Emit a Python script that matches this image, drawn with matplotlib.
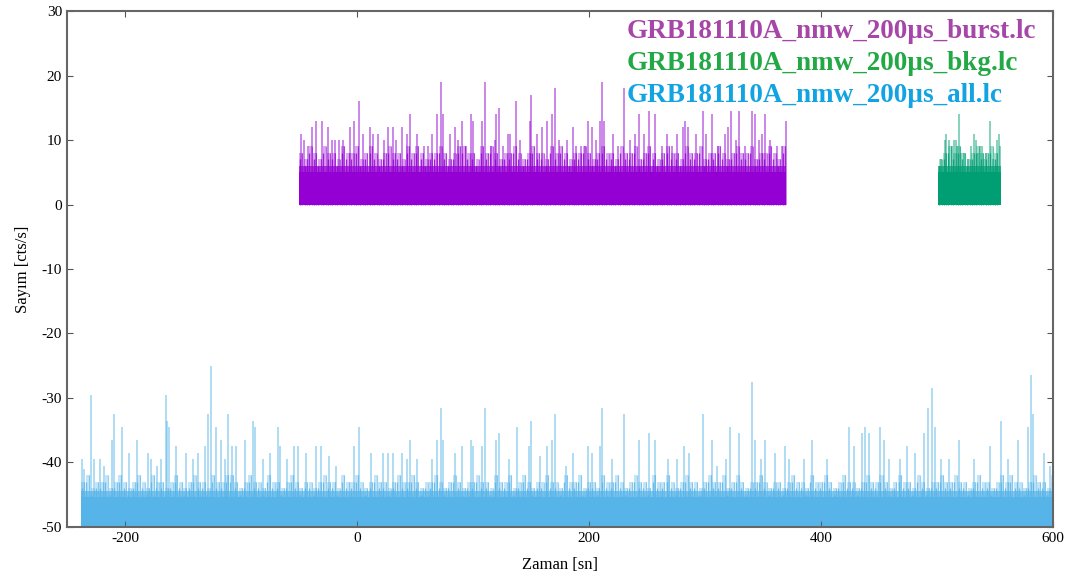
import numpy as np
import matplotlib.pyplot as plt

# time span of each light curve [s]
burst_span = [-50, 370]
bkg_span = [501, 555]
all_span = [-238, 600]

# typical count level (solid part) and top of the dense lower band
burst_level = [5, 6]
bkg_level = [5, 6]
all_level = [4.7, 5.6]
all_offset = -50   # the 'all' curve is drawn shifted down by 50

# dense band, one value per 4 s
band_step = 4
burst_band = [8, 7, 9, 8, 7, 9, 8, 8, 7, 9, 8, 8, 9, 7, 8, 9, 8, 7, 8, 9,
              8, 8, 7, 9, 8, 9, 8, 7, 8, 8, 9, 8, 7, 8, 9, 9, 8, 8, 7, 9,
              8, 9, 8, 7, 8, 8, 9, 8, 7, 8, 9, 8, 8, 7, 9, 8, 9, 8, 7, 8,
              8, 9, 8, 7, 8, 9, 8, 8, 7, 9, 8, 8, 9, 7, 8, 9, 8, 7, 8, 9,
              8, 8, 7, 9, 8, 8, 9, 7, 8, 8, 9, 8, 7, 8, 9, 8, 8, 9, 7, 8,
              8, 9, 8, 7, 9]
bkg_band = [7, 8, 9, 8, 9, 8, 7, 8, 9, 8, 8, 9, 8]
all_band = [7, 8, 6, 7, 7, 8, 6, 7, 8, 7, 6, 7, 8, 7, 6, 8, 7, 7, 6, 7,
            8, 7, 6, 7, 8, 7, 7, 6, 8, 7, 7, 8, 8, 7, 6, 7, 8, 7, 7, 6,
            8, 7, 7, 6, 7, 8, 7, 6, 7, 7, 6, 7, 8, 7, 7, 6, 8, 7, 7, 8,
            7, 6, 7, 8, 7, 7, 6, 7, 8, 7, 7, 8, 7, 6, 7, 7, 8, 7, 6, 7,
            8, 7, 6, 7, 7, 8, 7, 7, 6, 8, 7, 7, 8, 6, 7, 8, 7, 6, 7, 7,
            8, 7, 7, 6, 8, 7, 7, 8, 6, 7, 7, 6, 8, 7, 7, 8, 7, 6, 7, 8,
            7, 7, 6, 8, 7, 7, 8, 7, 6, 7, 8, 7, 7, 6, 7, 8, 7, 7, 8, 6,
            7, 8, 7, 6, 7, 7, 8, 7, 6, 7, 7, 6, 7, 8, 7, 7, 6, 8, 7, 7,
            8, 7, 6, 7, 8, 7, 7, 6, 7, 8, 7, 7, 8, 7, 6, 7, 8, 7, 7, 6,
            8, 7, 6, 7, 7, 8, 7, 7, 8, 7, 7, 6, 7, 8, 7, 7, 6, 7, 8, 7,
            8, 7, 7, 6, 7, 8, 7, 7, 6, 8]

# spikes: time [s], counts
burst_t = [-48.4, -45.5, -42.6, -39.1, -35.4, -30.5, -25, -21.9, -18.7, -15.3, -11.8, -6.3, -2.9,
           2.0, 5.2, 11, 13.5, 17.9, 23.6, 26.5, 30.8, 33.7, 38.9, 42.9, 46, 51.6, 57.6, 61, 64.5,
           69.1, 72.6, 74, 80.6, 84.1, 87, 90.5, 94.2, 97.9, 99.9, 107.7, 110, 115.8, 118.6, 120.1,
           122.1, 126.1, 130.2, 131.6, 137.4, 140.6, 148.9, 149.8, 155.3, 159.6, 164.1, 168.2,
           171.1, 173.9, 180.6, 186.3, 189.2, 192.7, 196.4, 198.7, 202.2, 205.9, 209.4, 211.4,
           213.1, 220.3, 225.2, 230.1, 235.3, 239.6, 243.1, 247.7, 252, 256.9, 262.6, 266.9,
           271.3, 275.6, 281.4, 282.8, 285.7, 292, 298, 301.2, 306.4, 311.6, 317.3, 319.4, 322.2,
           326.6, 328.9, 334.6, 340.4, 342.7, 346.2, 349, 351.4, 356.2, 362, 366.3, 369.8]
burst_c = [11, 10, 9, 12, 13, 13, 12, 10, 10, 10, 10, 12, 13,
           16, 11, 12, 11, 11, 10, 12, 12, 10, 12, 11, 14, 11, 9, 9, 11,
           14, 19, 14, 11, 12, 10, 13, 9, 14, 13, 13, 19, 9, 10, 14,
           15, 9, 11, 11, 16, 10, 13, 17, 11, 12, 13, 14,
           18, 10, 10, 12, 9, 9, 9, 13, 12, 10, 13, 19,
           13, 11, 9, 18, 10, 11, 14, 11, 14.5, 14, 9, 11,
           9, 11, 12, 13, 12, 11, 14.5, 11, 14, 9, 11, 12, 14.5,
           10, 14.5, 9, 14.5, 14, 10, 11, 14, 10, 9, 9, 13]

bkg_t = [503.1, 506.9, 508, 510.5, 512.6, 514.2, 516.1, 517.5, 519, 520.5, 523, 526.5, 529.6,
         531.9, 533.4, 535, 536.8, 538.5, 540.5, 542.6, 545.5, 548, 551.5, 553, 554.2]
bkg_c = [7, 10, 11, 10, 9, 10, 10, 9, 14, 8, 8, 7, 9,
         11, 10, 8, 9, 9, 7, 8, 13, 7, 10, 11, 9]

all_t = [-237, -235.5, -229.2, -227, -221.8, -218.3, -211.1, -209.1, -202.4, -196.7, -189.5,
         -180.3, -177.4, -172.8, -169, -165, -163.6, -162.2, -155.8, -147.7, -141.1, -137.1,
         -131, -128.4, -126.1, -121.8, -116.9, -114, -110.9, -107.4, -103.9, -96.5, -89.3,
         -87.9, -81, -74.9, -67.7, -66.3, -60, -54.2, -50.7, -44.1, -35.4, -31.1, -24, -18,
         -2.9, 1.4, 12.1, 22.2, 27.1, 30.8, 38.9, 43, 46.1, 52, 65, 69.1, 72.6, 74, 84.1, 90.5,
         97.9, 100, 107.7, 110, 120.1, 122.1, 131, 137.6, 148, 149.8, 158, 163.9, 168.5, 171.1,
         180, 186.3, 198.7, 203, 209.4, 211.4, 220, 230.1, 243.1, 252.1, 256.9, 268, 276,
         282.2, 286, 298.6, 306.4, 310, 318, 321.7, 328.9, 340.4, 343.3, 348, 351.9, 360.5,
         369.2, 372, 385, 392.2, 405, 423.9, 428, 435.4, 437.7, 441.1, 451.2, 454.1, 459, 468,
         474.3, 481, 488.7, 492.4, 495.3, 498.2, 503, 510, 519, 532, 545.7, 554.9, 561, 569.9,
         578.8, 581.1, 582.9, 592.4, 597]
all_c = [10.5, 9, 20.5, 10.5, 10.5, 9.5, 13.5, 17.5, 15.5, 11.5, 13.5,
         11.5, 10.5, 9.5, 10.5, 20.5, 16.5, 15.5, 12.5, 11.5, 10.5, 11.5,
         12.5, 17.5, 25, 15.5, 13.5, 10.5, 17.5, 12.5, 12.5, 13.5, 16.5,
         15.5, 10.5, 11.5, 15.5, 12.5, 10.5, 12.5, 12.5, 11.5, 12.5, 12.5, 11, 9.5,
         12.5, 15.5, 11.5, 11.5, 11.5, 11.5, 11.5, 10.5, 13.5, 10.5, 10.5, 13.5, 18.5, 13.5, 11.5, 12.5,
         13.5, 12.5, 12.5, 18.5, 13.5, 14.5, 10.5, 15.5, 12.5, 16.5, 11, 12.5, 13.5, 17.5,
         9.5, 11.5, 12.5, 11.5, 12.5, 18.5, 10.5, 17.5, 13.5, 14.5, 13.5, 10.5, 10.5,
         12.5, 11.5, 17.5, 13.5, 9.5, 10.5, 15.5, 14.5, 22.5, 13.5, 10.5, 13.5, 11.5,
         12.5, 10.5, 10.5, 13.5, 10.5, 15.5, 12.5, 14.5, 15.5, 14.5, 15.5, 13.5, 10.5, 10.5,
         12.5, 11.5, 14.5, 18.5, 21.5, 15.5, 10.5, 10.5, 13.5, 10.5, 12.5, 16.5, 10.5, 13.5,
         15.5, 23.5, 17.5, 11.5, 9.5]

labels = ['GRB181110A_nmw_200µs_burst.lc', 'GRB181110A_nmw_200µs_bkg.lc',
          'GRB181110A_nmw_200µs_all.lc']
label_colors = ['#a646a8', '#22a845', '#12a3e3']

plt.rcParams['font.family'] = ['Liberation Serif', 'DejaVu Serif']
plt.rcParams['axes.unicode_minus'] = False

fig = plt.figure(figsize=(10.68, 5.81), dpi=100)
ax = fig.add_axes([0.0627, 0.093, 0.9233, 0.888])


def draw_lc(span, level, band, t, c, color, offset=0):
    tb = np.arange(len(band)) * band_step + span[0] + band_step / 2
    hb = np.array(band) + offset
    ax.fill_between(span, offset, level[0] + offset, color=color, lw=0)
    ax.fill_between(span, level[0] + offset, level[1] + offset, color=color, alpha=0.7, lw=0)
    # light blocks plus darker thin lines in the band
    ax.bar(tb, hb - offset, bottom=offset, width=band_step * 0.8, color=color, alpha=0.35, lw=0)
    ax.vlines(tb - band_step * 0.3, offset, hb - 1, color=color, lw=1.0, alpha=0.8)
    ax.vlines(tb + band_step * 0.25, offset, hb, color=color, lw=0.8, alpha=0.6)
    ax.vlines(t, offset, np.array(c) + offset, color=color, lw=1.1, alpha=0.6)


draw_lc(burst_span, burst_level, burst_band, burst_t, burst_c, '#9400d3')
draw_lc(bkg_span, bkg_level, bkg_band, bkg_t, bkg_c, '#009e73')
draw_lc(all_span, all_level, all_band, all_t, all_c, '#56b4e9', all_offset)

for i, (lab, col) in enumerate(zip(labels, label_colors)):
    ax.text(0.568, 0.985 - i * 0.062, lab, transform=ax.transAxes, color=col,
            fontsize=19.5, fontweight='bold', va='top', ha='left')

ax.set_xlim(-250, 600)
ax.set_ylim(-50, 30)
ax.set_xticks([-200, 0, 200, 400, 600])
ax.set_yticks(range(-50, 31, 10))
ax.tick_params(direction='in', top=True, right=True, labelsize=11, length=4,
               color='#555555')
for s in ax.spines.values():
    s.set_color('#666666')
    s.set_linewidth(1.5)
ax.set_xlabel('Zaman [sn]', fontsize=12, labelpad=9)
ax.set_ylabel('Sayım [cts/s]', fontsize=12, labelpad=8)

fig.savefig('out.png', dpi=100)
